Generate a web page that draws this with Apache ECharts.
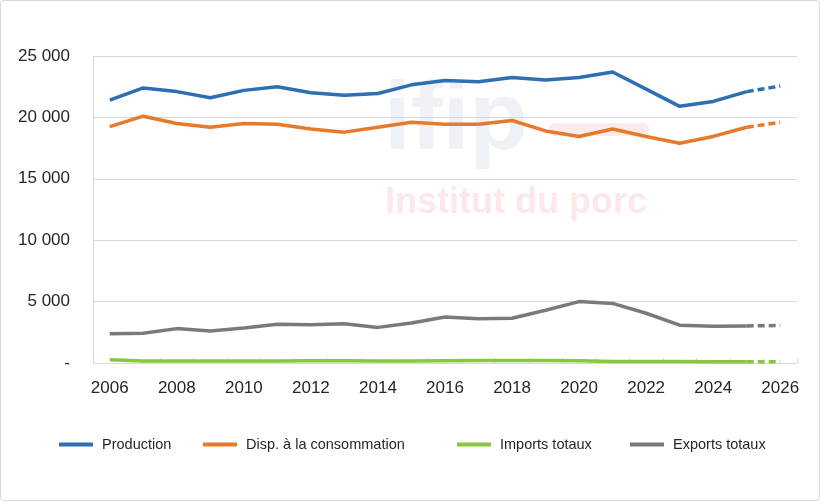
<!DOCTYPE html>
<html>
<head>
<meta charset="utf-8">
<script src="https://cdn.jsdelivr.net/npm/echarts@6/dist/echarts.min.js"></script>
<style>
html,body{margin:0;padding:0;background:#fff;}
#c{width:820px;height:501px;box-sizing:border-box;border:1px solid #d9d9d9;border-radius:4px;}
</style>
</head>
<body>
<div id="c"></div>
<script>
const years = ['2006','2007','2008','2009','2010','2011','2012','2013','2014','2015','2016','2017','2018','2019','2020','2021','2022','2023','2024','2025','2026'];
const production = [21400,22400,22100,21600,22200,22500,22000,21800,21950,22650,23000,22900,23250,23050,23250,23700,22300,20900,21300,22100,22550];
const consommation = [19250,20100,19500,19200,19500,19450,19050,18800,19200,19600,19450,19450,19750,18900,18450,19050,18450,17900,18450,19200,19600];
const imports = [260,160,170,170,170,170,180,180,160,160,190,200,200,200,190,130,120,120,110,100,100];
const exports = [2380,2420,2800,2600,2850,3150,3120,3200,2900,3250,3750,3600,3650,4300,5000,4850,4050,3080,3000,3020,3050];
const yTicks = [0,5000,10000,15000,20000,25000];
const names = ['Production','Disp. à la consommation','Imports totaux','Exports totaux'];
const colors = ['#2c6fb2','#e7792b','#8cc63e','#7a7a7a'];
const dataSets = [production, consommation, imports, exports];
const forecastFrom = 19; // index of 2025: dashed from 2025 to 2026

const chart = echarts.init(document.getElementById('c'), null, {renderer:'canvas'});
const series = [];
dataSets.forEach((d, i) => {
  series.push({
    name: names[i], type: 'line', data: d.map((v, k) => k <= forecastFrom ? v : null),
    symbol: 'none', lineStyle: {width: 3.5, color: colors[i]}, itemStyle: {color: colors[i]},
    z: 10 - i, animation: false
  });
  series.push({
    name: names[i] + ' (prévision)', type: 'line', data: d.map((v, k) => k >= forecastFrom ? v : null),
    symbol: 'none', lineStyle: {width: 3.5, color: colors[i], type: [7,4], cap: 'butt'}, itemStyle: {color: colors[i]},
    z: 10 - i, animation: false
  });
});
const legendLefts = [53, 197, 451, 624];
const legends = names.map((n, i) => ({
  data: [n], left: legendLefts[i], top: 431, icon: 'rect', itemWidth: 34, itemHeight: 4,
  itemGap: 0, selectedMode: false,
  textStyle: {fontFamily: 'Liberation Sans', fontSize: 14.5, color: '#262626', padding: [0,0,0,4]}
}));
chart.setOption({
  animation: false,
  backgroundColor: 'transparent',
  grid: {left: 92, right: 22, top: 55, bottom: 137, containLabel: false},
  legend: legends,
  graphic: [
    {type: 'text', left: 383, top: 74, z: -10, silent: true,
     style: {text: 'ifip', font: 'bold 96px "Liberation Sans"', fill: '#eef1f6'}},
    {type: 'rect', left: 548, top: 122, z: -10, silent: true, shape: {width: 100, height: 13, r: 6}, style: {fill: '#fcebeb'}},
    {type: 'text', left: 384, top: 184, z: -10, silent: true,
     style: {text: 'Institut du porc', font: 'bold 36px "Liberation Sans"', fill: '#fce8e8'}}
  ],
  xAxis: {
    type: 'category', data: years, boundaryGap: true,
    axisLine: {show: true, lineStyle: {color: '#d9d9d9', width: 1}},
    axisTick: {show: true, inside: true, length: 5, interval: 0, lineStyle: {color: '#d9d9d9'}},
    axisLabel: {interval: 1, fontFamily: 'Liberation Sans', fontSize: 17, color: '#262626', margin: 17},
    splitLine: {show: false}
  },
  yAxis: {
    type: 'value', min: 0, max: 25000, interval: 5000,
    axisLine: {show: true, lineStyle: {color: '#d9d9d9', width: 1}},
    axisTick: {show: false},
    axisLabel: {fontFamily: 'Liberation Sans', fontSize: 17, color: '#262626', margin: 23,
      formatter: v => v === 0 ? '-' : String(v).replace(/\B(?=(\d{3})+(?!\d))/g, ' ')},
    splitLine: {show: true, lineStyle: {color: '#d9d9d9', width: 1}}
  },
  series: series
});
</script>
</body>
</html>
